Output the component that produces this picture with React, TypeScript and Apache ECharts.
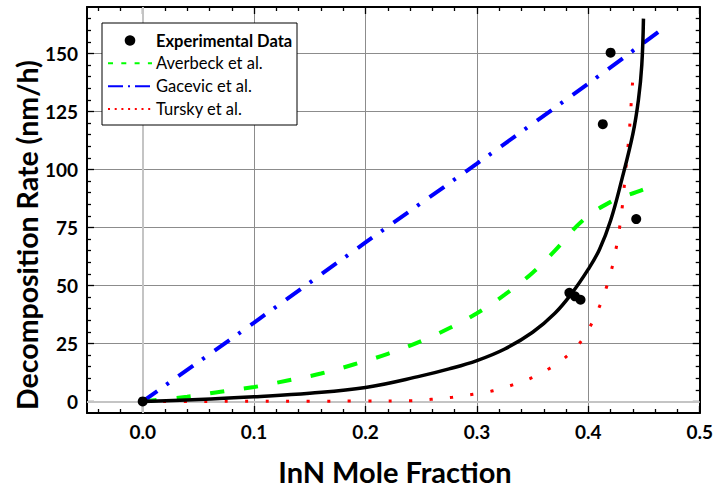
import React, { useEffect, useRef } from "react";
import * as echarts from "echarts";

// Experimental decomposition rates
const expX = [0, 0.383, 0.388, 0.393, 0.413, 0.42, 0.443];
const expY = [0, 46.8, 45.3, 43.8, 119.5, 150.3, 78.6];

// Model curve (solid black)
const modelX = [0, 0.05, 0.1, 0.15, 0.2, 0.25, 0.275, 0.3, 0.325, 0.35, 0.37, 0.385, 0.4, 0.41, 0.42, 0.43, 0.44, 0.445, 0.448, 0.4495];
const modelY = [0, 0.8, 2, 3.5, 6, 11, 14, 17.6, 22.6, 29.8, 38, 46.5, 57, 65.5, 78, 95.5, 115.3, 130, 145, 165];

// Averbeck et al.
const averbeckX = [0, 0.04, 0.07, 0.1, 0.13, 0.16, 0.19, 0.22, 0.25, 0.275, 0.3, 0.325, 0.35, 0.37, 0.395, 0.42, 0.443, 0.455];
const averbeckY = [0, 2, 4.2, 6.2, 9, 12, 16, 20.5, 26, 31.5, 38, 46, 55.5, 65, 78, 86, 90.2, 92.3];

// Gacevic et al.
const gacevicX = [0, 0.1, 0.2, 0.3, 0.4, 0.465];
const gacevicY = [0, 34, 68.5, 102.5, 137, 160];

// Tursky et al.
const turskyX = [0, 0.05, 0.1, 0.15, 0.2, 0.241, 0.259, 0.278, 0.2965, 0.3146, 0.332, 0.3494, 0.3648, 0.3785, 0.3915, 0.4015, 0.4097, 0.4162, 0.4213, 0.4251, 0.4281, 0.4305, 0.4323, 0.434, 0.4358, 0.4373, 0.4385, 0.4397];
const turskyY = [0, 0, 0.05, 0.1, 0.15, 0.3, 0.9, 1.8, 3.1, 4.6, 7.1, 10.2, 14.1, 18.6, 24.7, 32.2, 40.5, 49.1, 57.7, 66.4, 75.1, 84, 92.9, 101.9, 110.7, 119.5, 128.6, 137.4];

// Axis ticks
const xMajorTicks = [0, 0.1, 0.2, 0.3, 0.4, 0.5];
const xMinorTicks = [-0.04, -0.02, 0.02, 0.04, 0.06, 0.08, 0.12, 0.14, 0.16, 0.18, 0.22, 0.24, 0.26, 0.28, 0.32, 0.34, 0.36, 0.38, 0.42, 0.44, 0.46, 0.48];
const yMajorTicks = [0, 25, 50, 75, 100, 125, 150];
const yMinorTicks = [5, 10, 15, 20, 30, 35, 40, 45, 55, 60, 65, 70, 80, 85, 90, 95, 105, 110, 115, 120, 130, 135, 140, 145, 155, 160, 165];

const seriesNames = ["Experimental Data", "Averbeck et al.", "Gacevic et al.", "Tursky et al."];
const xTitle = "InN Mole Fraction";
const yTitle = "Decomposition Rate (nm/h)";

const FONT = "Lato, 'Open Sans', sans-serif";
const X_MIN = -0.05;
const X_MAX = 0.5;
const Y_MIN = -5;
const Y_MAX = 170;

const zip = (xs: number[], ys: number[]) => xs.map((x, i) => [x, ys[i]]);

function buildOption(): echarts.EChartsOption {
  const axisLine = { show: true, onZero: false, lineStyle: { color: "#000", width: 2 } };
  const tickStyle = { color: "#000", width: 1.3 };

  const xBase = (position: "bottom" | "top", ticks: number[], len: number, withLine: boolean) => ({
    type: "value" as const,
    position,
    min: X_MIN,
    max: X_MAX,
    axisLine: { ...axisLine, show: withLine },
    axisTick: { show: true, inside: true, length: len, customValues: ticks, lineStyle: tickStyle },
    axisLabel: { show: false },
    splitLine: { show: false },
  });
  const yBase = (position: "left" | "right", ticks: number[], len: number, withLine: boolean) => ({
    type: "value" as const,
    position,
    min: Y_MIN,
    max: Y_MAX,
    axisLine: { ...axisLine, show: withLine },
    axisTick: { show: true, inside: true, length: len, customValues: ticks, lineStyle: tickStyle },
    axisLabel: { show: false },
    splitLine: { show: false },
  });

  const tickLabel = {
    show: true,
    color: "#000",
    fontSize: 19,
    fontWeight: "bold" as const,
    fontFamily: FONT,
    margin: 9,
  };

  const xMain = {
    ...xBase("bottom", xMajorTicks, 7, true),
    axisLabel: { ...tickLabel, customValues: xMajorTicks, formatter: (v: number) => v.toFixed(1) },
    splitLine: { show: true, lineStyle: { color: "#8c8c8c", width: 1 } },
  };
  const yMain = {
    ...yBase("left", yMajorTicks, 7, true),
    axisLabel: { ...tickLabel, customValues: yMajorTicks, formatter: (v: number) => String(v) },
    splitLine: { show: true, lineStyle: { color: "#8c8c8c", width: 1 } },
  };

  const rowY = [40.5, 63.3, 86.2, 109];
  const legendLeft = 108;
  const legendRight = 152;
  const textX = 156;

  return {
    animation: false,
    backgroundColor: "#fff",
    grid: { left: 87, right: 12, top: 7, bottom: 75, containLabel: false },
    xAxis: [
      xMain,
      xBase("bottom", xMinorTicks, 4, false),
      xBase("top", xMajorTicks, 7, true),
      xBase("top", xMinorTicks, 4, false),
    ],
    yAxis: [
      yMain,
      yBase("left", yMinorTicks, 4, false),
      yBase("right", yMajorTicks, 7, true),
      yBase("right", yMinorTicks, 4, false),
    ],
    series: [
      {
        name: "Model",
        type: "line",
        data: zip(modelX, modelY),
        smooth: 0.4,
        symbol: "none",
        lineStyle: { color: "#000", width: 3.5 },
        z: 4,
        markLine: {
          silent: true,
          z: 1,
          symbol: ["none", "none"],
          label: { show: false },
          lineStyle: { color: "#c4c4c4", width: 2, type: "solid" },
          data: [{ xAxis: 0 }, { yAxis: 0 }],
        },
      },
      {
        name: seriesNames[1],
        type: "line",
        data: zip(averbeckX, averbeckY),
        smooth: 0.4,
        symbol: "none",
        lineStyle: { color: "#00ff00", width: 4, type: [14, 20], cap: "butt" },
        z: 3,
      },
      {
        name: seriesNames[2],
        type: "line",
        data: zip(gacevicX, gacevicY),
        smooth: 0.3,
        symbol: "none",
        lineStyle: { color: "#0000ff", width: 4, type: [18, 11, 3, 12], cap: "butt" },
        z: 3,
      },
      {
        name: seriesNames[3],
        type: "line",
        data: zip(turskyX, turskyY),
        smooth: 0.4,
        symbol: "none",
        lineStyle: { color: "#ff0000", width: 3, type: [3, 17.5], cap: "butt" },
        z: 3,
      },
      {
        name: seriesNames[0],
        type: "scatter",
        data: zip(expX, expY),
        symbol: "circle",
        symbolSize: 10,
        itemStyle: { color: "#000", opacity: 1 },
        z: 5,
      },
    ],
    graphic: [
      {
        type: "text",
        x: 27,
        y: 235,
        rotation: Math.PI / 2,
        z: 100,
        style: {
          text: yTitle,
          fill: "#000",
          fontSize: 28.5,
          fontWeight: "bold",
          fontFamily: FONT,
          textAlign: "center",
          textVerticalAlign: "middle",
        },
      },
      {
        type: "text",
        x: 395,
        y: 471,
        z: 100,
        style: {
          text: xTitle,
          fill: "#000",
          fontSize: 29,
          lineHeight: 29,
          fontWeight: "bold",
          fontFamily: FONT,
          textAlign: "center",
          textVerticalAlign: "middle",
        },
      },
      {
        type: "group",
        z: 100,
        children: [
          {
            type: "rect",
            z: 100,
            shape: { x: 102, y: 23, width: 195, height: 102 },
            style: { fill: "#fff", stroke: "#000", lineWidth: 1 },
          },
          {
            type: "circle",
            z: 101,
            shape: { cx: 130, cy: rowY[0], r: 5.3 },
            style: { fill: "#000" },
          },
          {
            type: "line",
            z: 101,
            shape: { x1: legendLeft, y1: rowY[1], x2: legendRight, y2: rowY[1] },
            style: { stroke: "#00ff00", lineWidth: 2, lineDash: [5, 8.3] },
          },
          {
            type: "line",
            z: 101,
            shape: { x1: legendLeft, y1: rowY[2], x2: legendRight, y2: rowY[2] },
            style: { stroke: "#0000ff", lineWidth: 2, lineDash: [15, 5, 2, 5] },
          },
          {
            type: "line",
            z: 101,
            shape: { x1: legendLeft, y1: rowY[3], x2: legendRight, y2: rowY[3] },
            style: { stroke: "#ff0000", lineWidth: 2, lineDash: [2, 4.7] },
          },
          ...seriesNames.map((name, i) => ({
            type: "text" as const,
            z: 101,
            x: textX,
            y: rowY[i],
            style: {
              text: name,
              fill: "#000",
              fontSize: 16.5,
              fontWeight: i === 0 ? "bold" : "normal",
              fontFamily: FONT,
              textAlign: "left",
              textVerticalAlign: "middle",
            },
          })),
        ],
      },
    ],
  } as echarts.EChartsOption;
}

export default function App() {
  const ref = useRef<HTMLDivElement>(null);

  useEffect(() => {
    if (!ref.current) return;
    const chart = echarts.init(ref.current, undefined, { renderer: "svg" });
    chart.setOption(buildOption());
    return () => chart.dispose();
  }, []);

  return <div ref={ref} style={{ width: 716, height: 488, position: "absolute", left: 0, top: 0 }} />;
}
